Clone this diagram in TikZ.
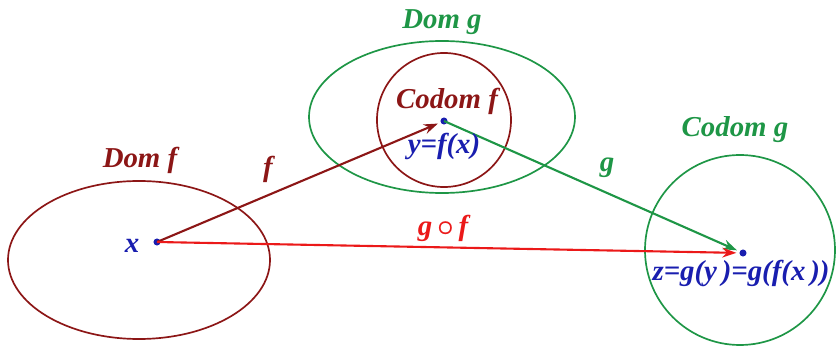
\documentclass[tikz,border=0pt]{standalone}
\usepackage{amsmath}
\usepackage{fontspec}
\setmainfont{Liberation Serif}
\usetikzlibrary{arrows.meta}
\definecolor{dred}{RGB}{140,22,22}
\definecolor{dgreen}{RGB}{30,150,70}
\definecolor{dblue}{RGB}{25,30,175}
\definecolor{bred}{RGB}{235,25,25}
\begin{document}
\begin{tikzpicture}[x=0.025cm,y=-0.025cm,
  lab/.style={font=\fontsize{20.5}{24}\selectfont\bfseries\itshape, inner sep=0pt},
  pt/.style={circle, fill=dblue, inner sep=0pt, minimum size=5pt},
  setline/.style={line width=1.2pt},
  arr/.style={line width=1.5pt, -{Stealth[length=10pt,width=7pt]}}]
\useasboundingbox (0,0) rectangle (838,347);
% sets
\draw[setline, dred] (139,260) ellipse [x radius=131, y radius=79];
\draw[setline, dgreen] (442,117) ellipse [x radius=133, y radius=76];
\draw[setline, dred] (444,120) circle [radius=67];
\draw[setline, dgreen] (740,250) circle [radius=95];
% points
\node[pt] (x) at (157,242) {};
\node[pt] (y) at (444,121) {};
\node[pt] (z) at (743,253) {};
% arrows
\draw[arr, dred, shorten >=2pt] (x.center) -- (y);
\draw[arr, dgreen, shorten >=2pt] (y.center) -- (z);
\draw[arr, bred, shorten >=2pt] (x.center) -- (z);
% labels
\node[lab, dred] (domf) at (140,160) {Dom f};
\node[lab, dred] (flab) at (268,169) {f};
\node[lab, dblue] (xlab) at (132,246) {x};
\node[lab, dgreen] (domg) at (442,22) {Dom g};
\node[lab, dred] (codf) at (447,101) {Codom f};
\node[lab, dblue] (ylab) at (444,146) {y=f(x)};
\node[lab, dgreen] (glab) at (607,168) {g};
\node[lab, bred] (gf) at (443,228) {g\,$\boldsymbol{\circ}$\,f};
\node[lab, dgreen] (codg) at (735,130) {Codom g};
\node[lab, dblue] (zlab) at (741,273) {z=g(y\,)=g(f(x\,))};
\end{tikzpicture}
\end{document}
